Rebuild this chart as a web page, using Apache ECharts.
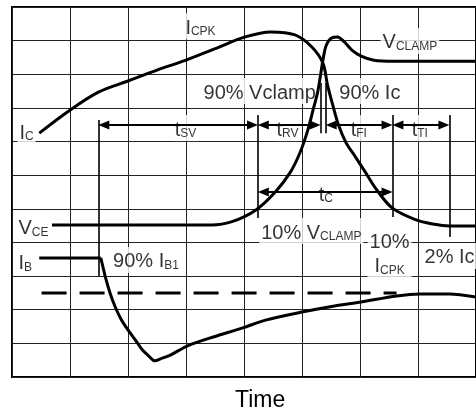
<!DOCTYPE html>
<html>
<head>
<meta charset="utf-8">
<script src="https://cdn.jsdelivr.net/npm/echarts@6/dist/echarts.min.js"></script>
<style>
html,body{margin:0;padding:0;background:#fff;}
#chart{width:476px;height:414px;}
</style>
</head>
<body>
<div id="chart"></div>
<script>
// Values in grid divisions (x: time divisions, y: vertical divisions)
const icCurve = [[0.47,7.25],[0.98,7.91],[1.49,8.47],[2.00,8.80],[2.51,9.13],[3.00,9.42],[3.53,9.78],[4.02,10.11],[4.46,10.26],[4.88,10.17],[5.17,9.81],[5.36,9.33],[5.44,8.68],[5.53,8.09],[5.63,7.49],[5.76,6.96],[5.90,6.60],[6.07,6.15],[6.29,5.56],[6.56,5.02],[6.97,4.67],[7.25,4.55],[7.54,4.49],[8.00,4.49]];
const vceCurve = [[0.69,4.52],[3.44,4.52],[3.78,4.61],[4.20,4.96],[4.54,5.50],[4.80,6.09],[4.97,6.69],[5.10,7.34],[5.20,8.00],[5.27,8.47],[5.32,8.98],[5.37,9.51],[5.42,9.87],[5.51,10.08],[5.61,10.11],[5.73,9.96],[5.86,9.72],[6.02,9.54],[6.24,9.42],[6.58,9.39],[8.00,9.39]];
const ibFlat = [[0.47,3.54],[1.53,3.54]];
const ibFall = [[1.53,3.54],[1.56,3.33],[1.61,2.97],[1.69,2.50],[1.78,2.08],[1.88,1.72],[2.00,1.40],[2.14,1.07],[2.25,0.80],[2.36,0.62],[2.46,0.48],[2.59,0.56],[2.73,0.65],[3.02,0.92],[3.47,1.19],[3.98,1.46],[4.37,1.69],[5.00,1.93],[5.56,2.11],[6.02,2.23],[6.63,2.41],[7.03,2.47],[7.54,2.47],[8.00,2.38]];
const ibReference = [[0.51,2.50],[6.63,2.50]];
// vertical marker lines: [x, yTop, yBottom]
const markerLines = [[1.49,7.64,3.00],[4.24,7.79,4.73],[5.32,8.74,7.25],[5.41,8.74,7.25],[6.56,7.79,4.76],[7.54,7.79,4.16]];
// interval arrows: [xStart, xEnd, y]
const intervalArrows = [[1.49,4.24,7.49],[4.24,5.32,7.49],[5.41,6.56,7.49],[6.56,7.54,7.49],[4.24,6.56,5.50]];
// annotation texts and anchors
const labelTexts = ['{n|I}{s|CPK}','{n|V}{s|CLAMP}','{n|90% Vclamp}','{n|90% Ic}','{n|I}{s|C}','{n|t}{s|SV}','{n|t}{s|RV}','{n|t}{s|FI}','{n|t}{s|TI}','{n|t}{s|C}','{n|V}{s|CE}','{n|I}{s|B}','{n|90% I}{s|B1}','{n|10% V}{s|CLAMP}','{n|10%}\n{n|I}{s|CPK}','{n|2% Ic}'];
const labelAnchors = [[3.25,10.43],[6.86,9.99],[4.27,8.50],[6.17,8.50],[0.25,7.31],[2.99,7.40],[4.75,7.40],[5.98,7.40],[7.03,7.40],[5.41,5.47],[0.37,4.46],[0.23,3.42],[2.31,3.48],[5.16,4.34],[6.51,3.69],[7.07,3.60]];
const leftAligned = [15];

const FONT = 'Liberation Sans, Arial, sans-serif';
const ARROW_W = 9, ARROW_L = 11;
const PX_PER_X = 59;
const inset = (ARROW_L / 2) / PX_PER_X;
const chart = echarts.init(document.getElementById('chart'));
const lineBase = {type:'line', showSymbol:false, symbol:'none', z:4, silent:true, clip:true};
const option = {
  animation:false,
  backgroundColor:'#fff',
  grid:{left:12, top:7, width:472, height:370, show:true, borderColor:'#000', borderWidth:2, backgroundColor:'#fff'},
  xAxis:{type:'value', min:0, max:8, interval:1, axisLabel:{show:false}, axisTick:{show:false}, axisLine:{show:false},
    splitLine:{show:true, lineStyle:{color:'#222', width:1}}},
  yAxis:{type:'value', min:0, max:11, interval:1, axisLabel:{show:false}, axisTick:{show:false}, axisLine:{show:false},
    splitLine:{show:true, lineStyle:{color:'#222', width:1}}},
  graphic:[{type:'text', left:235, top:389, style:{text:'Time', fontSize:23, fontFamily:FONT, fill:'#000'}}],
  series:[
    {type:'line', data:[], z:2, silent:true,
      markLine:{silent:true, symbol:['none','none'], label:{show:false}, lineStyle:{color:'#000', width:1.6, type:'solid'},
        data: markerLines.map(([x,a,b]) => [{coord:[x,a]},{coord:[x,b]}])}},
    {type:'line', data:[], z:2, silent:true,
      markLine:{silent:true, symbol:['triangle','triangle'], symbolSize:[ARROW_W, ARROW_L], label:{show:false}, lineStyle:{color:'#000', width:2, type:'solid'},
        data: intervalArrows.map(([a,b,y]) => [{coord:[a+inset,y]},{coord:[b-inset,y]}])}},
    {type:'scatter', z:3, silent:true, symbolSize:1, itemStyle:{color:'rgba(0,0,0,0)'},
      label:{show:true, position:'inside', color:'#000', fontFamily:FONT, backgroundColor:'#fff', padding:[1,2],
        rich:{n:{fontSize:20, lineHeight:24, verticalAlign:'bottom', fontFamily:FONT, color:'#000'},
              s:{fontSize:12, lineHeight:14, verticalAlign:'bottom', fontFamily:FONT, color:'#000'}}},
      data: labelTexts.map((t,i) => ({value:labelAnchors[i], label: leftAligned.includes(i) ? {formatter:t, position:'right', distance:0} : {formatter:t}}))},
    Object.assign({}, lineBase, {data:icCurve, smooth:0.35, lineStyle:{color:'#000', width:3}}),
    Object.assign({}, lineBase, {data:vceCurve, smooth:0.35, lineStyle:{color:'#000', width:3}}),
    Object.assign({}, lineBase, {data:ibFlat, lineStyle:{color:'#000', width:3}}),
    Object.assign({}, lineBase, {data:ibFall, smooth:0.3, lineStyle:{color:'#000', width:3}}),
    Object.assign({}, lineBase, {data:ibReference, lineStyle:{color:'#000', width:3, type:[25,13]}})
  ]
};
chart.setOption(option);
</script>
</body>
</html>
